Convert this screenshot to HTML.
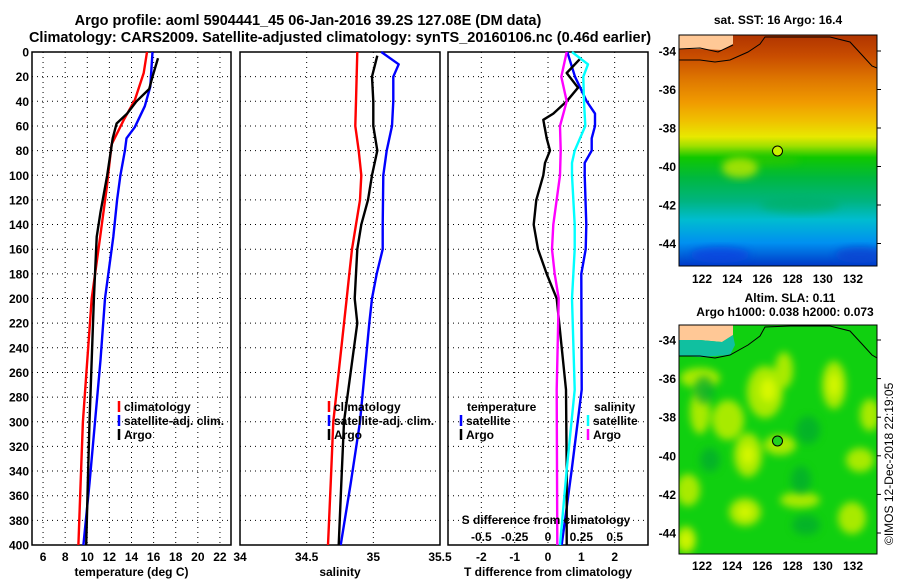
<!DOCTYPE html>
<html><head><meta charset="utf-8"><style>
html,body{margin:0;padding:0;background:#fff;}
svg{display:block;font-family:"Liberation Sans",Arial,sans-serif;font-weight:bold;}
</style></head><body>
<svg id="c" width="900" height="580" viewBox="0 0 900 580" xmlns="http://www.w3.org/2000/svg">
<defs>
<linearGradient id="sst" x1="0" y1="0" x2="0" y2="1">
<stop offset="0" stop-color="#b03400"/><stop offset="0.09" stop-color="#c84c00"/><stop offset="0.2" stop-color="#e07a00"/><stop offset="0.29" stop-color="#f09a00"/><stop offset="0.37" stop-color="#f0c000"/><stop offset="0.44" stop-color="#e8e800"/><stop offset="0.48" stop-color="#a0e000"/><stop offset="0.53" stop-color="#10c800"/><stop offset="0.62" stop-color="#00b840"/><stop offset="0.72" stop-color="#00b480"/><stop offset="0.8" stop-color="#00bcd0"/><stop offset="0.9" stop-color="#0090f0"/><stop offset="1" stop-color="#0038c8"/>
</linearGradient>
<filter id="blur" x="-30%" y="-30%" width="160%" height="160%"><feGaussianBlur stdDeviation="4"/></filter>
<clipPath id="m1"><rect x="679" y="35" width="198" height="231"/></clipPath>
<clipPath id="m2"><rect x="679" y="325" width="198" height="229"/></clipPath>
</defs>
<text x="308" y="25" font-size="14.5" text-anchor="middle">Argo profile: aoml 5904441_45 06-Jan-2016 39.2S 127.08E (DM data)</text>
<text x="340" y="42" font-size="14.5" text-anchor="middle">Climatology: CARS2009. Satellite-adjusted climatology: synTS_20160106.nc (0.46d earlier)</text>
<g id="plots"></g>
<!-- map 1 -->
<g>
<text x="778" y="24" font-size="12" text-anchor="middle">sat. SST: 16 Argo: 16.4</text>
<g clip-path="url(#m1)">
<rect x="679" y="35" width="198" height="231" fill="url(#sst)"/>
<ellipse cx="760" cy="160" rx="40" ry="6" fill="#30c800" opacity="0.6" filter="url(#blur)"/>
<ellipse cx="740" cy="168" rx="18" ry="10" fill="#c0e800" opacity="0.8" filter="url(#blur)"/>
<ellipse cx="800" cy="205" rx="40" ry="8" fill="#00b060" opacity="0.6" filter="url(#blur)"/>
<ellipse cx="720" cy="255" rx="30" ry="8" fill="#1040e0" opacity="0.7" filter="url(#blur)"/>
<ellipse cx="860" cy="255" rx="25" ry="8" fill="#1040d0" opacity="0.7" filter="url(#blur)"/>
<polygon points="679,35 733,35 733,44 722,50 700,49 679,49" fill="#ffc896"/>
<polyline points="679,49 700,48 718,52 733,45" fill="none" stroke="#000" stroke-width="1"/>
<polyline points="679,60 700,60 715,62 730,60 748,52 760,44 765,37 790,37 830,37 850,42 862,55 872,66 877,68" fill="none" stroke="#000" stroke-width="1"/>
</g>
<rect x="679" y="35" width="198" height="231" fill="none" stroke="#000" stroke-width="1"/>
<circle cx="777.5" cy="151" r="5" fill="#c8f000" stroke="#000" stroke-width="1"/>
</g>
<!-- map 2 -->
<g>
<text x="790" y="302" font-size="12" text-anchor="middle">Altim. SLA: 0.11</text>
<text x="785" y="316" font-size="12" text-anchor="middle">Argo h1000: 0.038 h2000: 0.073</text>
<g clip-path="url(#m2)">
<rect x="679" y="325" width="198" height="229" fill="#10d010"/>
<g filter="url(#blur)" fill="#a8ea00">
<ellipse cx="765" cy="392" rx="18" ry="26"/><ellipse cx="784" cy="370" rx="9" ry="18"/>
<ellipse cx="834" cy="385" rx="12" ry="24"/><ellipse cx="728" cy="420" rx="16" ry="20"/>
<ellipse cx="748" cy="455" rx="14" ry="22"/><ellipse cx="870" cy="415" rx="10" ry="16"/>
<ellipse cx="745" cy="512" rx="16" ry="14"/><ellipse cx="688" cy="490" rx="12" ry="16"/>
<ellipse cx="686" cy="540" rx="10" ry="14"/><ellipse cx="780" cy="445" rx="16" ry="10"/>
<ellipse cx="852" cy="518" rx="14" ry="16"/><ellipse cx="700" cy="412" rx="10" ry="22"/>
<ellipse cx="700" cy="378" rx="20" ry="10"/><ellipse cx="860" cy="460" rx="14" ry="12"/>
<ellipse cx="800" cy="500" rx="20" ry="8"/>
</g>
<g filter="url(#blur)" fill="#d8f800">
<ellipse cx="768" cy="390" rx="8" ry="12"/><ellipse cx="834" cy="385" rx="5" ry="12"/>
<ellipse cx="748" cy="455" rx="6" ry="10"/><ellipse cx="745" cy="512" rx="7" ry="6"/>
<ellipse cx="686" cy="540" rx="5" ry="7"/>
</g>
<g filter="url(#blur)" fill="#00a830" opacity="0.7">
<ellipse cx="808" cy="430" rx="12" ry="14"/><ellipse cx="704" cy="390" rx="10" ry="14"/>
<ellipse cx="806" cy="525" rx="14" ry="10"/><ellipse cx="801" cy="480" rx="10" ry="14"/>
<ellipse cx="710" cy="460" rx="10" ry="12"/>
</g>
<polygon points="679,325 733,325 733,335 722,342 700,340 679,340" fill="#ffc896"/>
<polygon points="679,340 700,340 722,342 733,335 735,345 730,355 700,357 679,356" fill="#10c0a0"/>
<polyline points="679,356 700,356 715,358 730,355 748,345 760,336 765,327 790,326 830,326 850,331 862,344 872,355 877,358" fill="none" stroke="#000" stroke-width="1"/>
</g>
<rect x="679" y="325" width="198" height="229" fill="none" stroke="#000" stroke-width="1"/>
<circle cx="777.5" cy="441" r="5" fill="#20d020" stroke="#000" stroke-width="1"/>
</g>
<text transform="translate(893,545) rotate(-90)" font-size="12" font-weight="normal">©IMOS 12-Dec-2018 22:19:05</text>
<g id="maps"></g>
</svg>
<script>
// ---- data ----
const depthTicks = [0,20,40,60,80,100,120,140,160,180,200,220,240,260,280,300,320,340,360,380,400];
const tempTicks = [6,8,10,12,14,16,18,20,22];
const salTicks = [34,34.5,35,35.5];
const tdiffTicks = [-2,-1,0,1,2];
const sdiffTicks = [-0.5,-0.25,0,0.25,0.5];
const sdiffLabels = ["-0.5","-0.25","0","0.25","0.5"];

const tClimDepth = [0,17,39,55,75,111,151,200,250,300,350,400];
const tClimVal   = [15.4,15.1,14.3,13.3,12.2,11.75,11.15,10.4,10.0,9.6,9.4,9.2];
const tSatDepth  = [0,28,44,61,70,80,100,120,150,200,250,300,350,400];
const tSatVal    = [15.9,15.7,15.2,14.3,13.55,13.4,13.0,12.7,12.35,11.6,11.2,10.7,10.2,9.65];
const tArgoDepth = [5,20,30,40,50,58,70,100,130,150,200,250,300,350,400];
const tArgoVal   = [16.4,15.9,15.6,14.45,13.6,12.65,12.3,11.8,11.2,10.85,10.6,10.4,10.2,10.05,9.9];

const sClimDepth = [0,40,60,80,100,120,140,160,180,200,250,300,350,400];
const sClimVal   = [34.88,34.87,34.865,34.89,34.91,34.90,34.87,34.84,34.82,34.80,34.75,34.70,34.68,34.66];
const sSatDepth  = [0,10,20,40,60,80,100,140,160,180,200,220,300,350,400];
const sSatVal    = [35.06,35.19,35.15,35.15,35.14,35.10,35.075,35.07,35.07,35.025,34.99,34.97,34.90,34.83,34.755];
const sArgoDepth = [3,20,40,60,80,100,120,140,160,200,220,300,350,400];
const sArgoVal   = [35.03,34.99,35.0,35.0,35.03,34.99,34.96,34.91,34.88,34.86,34.88,34.78,34.76,34.74];

const dTSatDepth  = [0,20,40,50,60,70,80,90,100,140,160,180,274,339,400];
const dTSatVal    = [0.58,0.81,1.16,1.41,1.41,1.31,1.31,1.1,1.1,1.15,1.13,1.0,1.01,0.71,0.41];
const dTArgoDepth = [5,17,29,40,50,55,70,80,90,100,120,140,160,180,200,274,339,400];
const dTArgoVal   = [0.98,0.56,0.9,0.56,0.16,-0.14,-0.04,0.06,-0.09,-0.14,-0.35,-0.43,-0.3,-0.04,0.26,0.54,0.56,0.56];
const dSArgoDepth = [0,20,40,60,80,100,140,160,180,200,274,400];
const dSArgoVal   = [0.14,0.10,0.14,0.09,0.095,0.09,0.04,0.03,0.05,0.08,0.065,0.07];
const dSSatDepth  = [0,10,20,40,60,80,90,100,140,160,200,274,339,400];
const dSSatVal    = [0.18,0.30,0.265,0.27,0.28,0.2,0.18,0.18,0.2,0.2,0.18,0.2,0.14,0.09];

// ---- drawing ----
const NS='http://www.w3.org/2000/svg';
const g=document.getElementById('plots');
const Y0=52,Y1=545;
const yD=d=>Y0+(Y1-Y0)*d/400;
function mk(tag,attrs,parent){const e=document.createElementNS(NS,tag);for(const k in attrs)e.setAttribute(k,attrs[k]);(parent||g).appendChild(e);return e;}
function txt(x,y,s,anchor,size){const t=mk('text',{x:x,y:y,'font-size':size||12,'text-anchor':anchor||'middle'});t.textContent=s;return t;}

function panel(name,x0,x1,xmin,xmax,ticks,labels,xlabel){
  const xs=v=>x0+(x1-x0)*(v-xmin)/(xmax-xmin);
  const grp=mk('g',{});
  
  
  ticks.forEach(v=>{const l=mk('line',{x1:xs(v),x2:xs(v),y1:Y0,y2:Y1,stroke:'#000','stroke-width':1,'stroke-dasharray':'1 4'},grp);
    
    });
  depthTicks.forEach(d=>{const l=mk('line',{x1:x0,x2:x1,y1:yD(d),y2:yD(d),stroke:'#000','stroke-width':1,'stroke-dasharray':'1 4'},grp);
    
    });
  const r=mk('rect',{x:x0,y:Y0,width:x1-x0,height:Y1-Y0,fill:'none',stroke:'#000','stroke-width':1.5},grp);
  
  
  if(labels){ticks.forEach((v,i)=>{const t=txt(xs(v),561,labels[i]);
    
    });}
  const xl=txt((x0+x1)/2,576,xlabel);
  
  
  return xs;
}
function line(xs,dep,val,color,w,name){
  const pts=dep.map((d,i)=>xs(val[i]).toFixed(1)+','+yD(d).toFixed(1)).join(' ');
  const p=mk('polyline',{points:pts,fill:'none',stroke:color,'stroke-width':w||2.2,'stroke-linejoin':'round'});
  
  
}
function leg(x,y,color,label,name){
  const l=mk('line',{x1:x,x2:x,y1:y-10,y2:y+1,stroke:color,'stroke-width':2.5});
  
  
  const t=txt(x+5,y,label,'start');
  
  
}

depthTicks.forEach(d=>{const t=txt(29,yD(d)+4.5,String(d),'end');
  
  });

const xT=panel('temperature',32,231,5,23,tempTicks,tempTicks.map(String),'temperature (deg C)');
line(xT,tClimDepth,tClimVal,'#ff0000',2.4,'temp-climatology-line');
line(xT,tSatDepth,tSatVal,'#0000ff',2.4,'temp-satellite-line');
line(xT,tArgoDepth,tArgoVal,'#000000',2.4,'temp-argo-line');
leg(119,411,'#ff0000','climatology','temp-legend-climatology');
leg(119,425,'#0000ff','satellite-adj. clim.','temp-legend-satellite');
leg(119,439,'#000000','Argo','temp-legend-argo');

const xS=panel('salinity',240,440,34,35.5,salTicks,["34","34.5","35","35.5"],'salinity');
line(xS,sClimDepth,sClimVal,'#ff0000',2.4,'sal-climatology-line');
line(xS,sSatDepth,sSatVal,'#0000ff',2.4,'sal-satellite-line');
line(xS,sArgoDepth,sArgoVal,'#000000',2.4,'sal-argo-line');
leg(329,411,'#ff0000','climatology','sal-legend-climatology');
leg(329,425,'#0000ff','satellite-adj. clim.','sal-legend-satellite');
leg(329,439,'#000000','Argo','sal-legend-argo');

const xD=panel('difference',448,648,-3,3,tdiffTicks,tdiffTicks.map(String),'T difference from climatology');
const xSD=v=>xD(v*4);
line(xD,dTSatDepth,dTSatVal,'#0000ff',2.4,'tdiff-satellite-line');
line(xD,dTArgoDepth,dTArgoVal,'#000000',2.4,'tdiff-argo-line');
line(xSD,dSArgoDepth,dSArgoVal,'#ff00ff',2.4,'sdiff-argo-line');
line(xSD,dSSatDepth,dSSatVal,'#00ffff',2.4,'sdiff-satellite-line');
sdiffTicks.forEach((v,i)=>{const t=txt(xSD(v),541,sdiffLabels[i]);
  
  });
const st=txt(546,524,'S difference from climatology');


const th=txt(467,411,'temperature','start');


leg(461,425,'#0000ff','satellite','diff-legend-t-satellite');
leg(461,439,'#000000','Argo','diff-legend-t-argo');
const sh=txt(594,411,'salinity','start');


leg(588,425,'#00ffff','satellite','diff-legend-s-satellite');
leg(588,439,'#ff00ff','Argo','diff-legend-s-argo');

const mg=document.getElementById('maps');
const lonTicks=[122,124,126,128,130,132];
const latTicks=[-34,-36,-38,-40,-42,-44];
const lonX=v=>702+(v-122)*15.1;
function mapAxes(latY,labY,nm){
  lonTicks.forEach(v=>{
    const t=txt(lonX(v),labY,String(v));mg.appendChild(t);
    
    
  });
  latTicks.forEach(v=>{
    const y=latY(v);
    const t=txt(676,y+4.5,String(v),'end');mg.appendChild(t);
    
    
    mk('line',{x1:877,x2:881,y1:y,y2:y,stroke:'#000'},mg);
  });
}
mapAxes(v=>51+(-34-v)*19.25,283,'sst-map');
mapAxes(v=>340+(-34-v)*19.3,570,'sla-map');
</script>
</body></html>
